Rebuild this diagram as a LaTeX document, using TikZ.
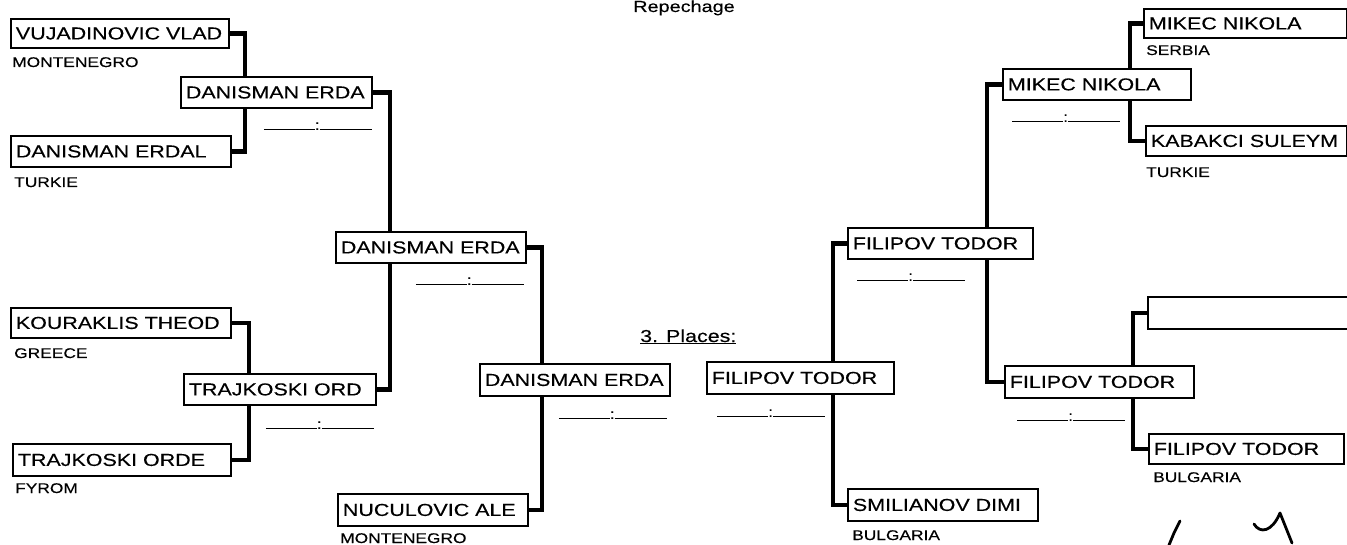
\documentclass[tikz,border=0pt]{standalone}
\usepackage{fontspec}
\setmainfont{Liberation Sans}[FakeStretch=1.24, FakeBold=0.3]
\usetikzlibrary{calc}
\pgfdeclarelayer{bg}
\pgfsetlayers{bg,main}
\newcommand\bigf{\fontsize{17.3}{20}\selectfont}
\newcommand\titlef{\fontsize{16}{19}\selectfont}
\newcommand\smallf{\fontsize{14}{16}\selectfont}
\newcommand\scoretext{\rule{51pt}{1.2pt}:\rule{52pt}{1.2pt}}
\tikzset{
  box/.style={draw, line width=1.8pt, fill=white, anchor=north west,
    inner xsep=5pt, inner ysep=0pt, text height=12pt, text depth=0pt, font=\bigf},
  conn/.style={line width=4.5pt, line join=miter},
  country/.style={anchor=base west, inner sep=0pt, font=\smallf},
  score/.style={inner sep=0pt, font=\smallf},
  sig/.style={line width=2.8pt, line cap=round, line join=round},
}
\newcommand\entry[6]{\node[box, minimum height=#5pt] (#1) at (#2,#3) {\makebox[\dimexpr #4pt-10pt\relax][l]{#6}};}
\begin{document}
\begin{tikzpicture}[x=1pt, y=-1pt]
\useasboundingbox (0,0) rectangle (1347,545);
\begin{pgfonlayer}{bg}
  \fill[white] (0,0) rectangle (1347,545);
\end{pgfonlayer}

% boxes
\entry{v1}{10}{18}{218}{29}{VUJADINOVIC VLAD}
\entry{d0}{10}{135}{220}{31}{DANISMAN ERDAL}
\entry{k1}{10}{307}{220}{30}{KOURAKLIS THEOD}
\entry{t0}{12}{443}{218}{32}{TRAJKOSKI ORDE}
\entry{d1}{180}{76}{191}{31}{DANISMAN ERDA}
\entry{t1}{183}{373}{192}{31}{TRAJKOSKI ORD}
\entry{d2}{335}{231}{190}{31}{DANISMAN ERDA}
\entry{n1}{337}{493}{190}{32}{NUCULOVIC ALE}
\entry{d3}{479}{363}{190}{32}{DANISMAN ERDA}
\entry{f3}{706}{361}{187}{32}{FILIPOV TODOR}
\entry{f2}{847}{227}{185}{31}{FILIPOV TODOR}
\entry{s1}{847}{488}{190}{32}{SMILIANOV DIMI}
\entry{m1}{1002}{68}{188}{31}{MIKEC NIKOLA}
\entry{f1}{1004}{365}{189}{32}{FILIPOV TODOR}
\entry{m0}{1143}{8}{203}{29}{MIKEC NIKOLA}
\entry{k0}{1145}{125}{201}{30}{KABAKCI SULEYM}
\entry{e0}{1147}{296}{230}{32}{}
\entry{f0}{1148}{433}{195}{30}{FILIPOV TODOR}

% connectors (behind the boxes)
\begin{pgfonlayer}{bg}
  \draw[conn] (v1.east) -- ++(15,0) |- (d0.east);
  \draw[conn] (k1.east) -- ++(17,0) |- (t0.east);
  \draw[conn] (d1.east) -- ++(17,0) |- (t1.east);
  \draw[conn] (d2.east) -- ++(15,0) |- (n1.east);
  \draw[conn] (f2.west) -- ++(-14,0) |- (s1.west);
  \draw[conn] (m1.west) -- ++(-15,0) |- (f1.west);
  \draw[conn] (m0.west) -- ++(-13,0) |- (k0.west);
  \draw[conn] (e0.west) -- ++(-14,0) |- (f0.west);
\end{pgfonlayer}

% score lines
\node[score, anchor=base east] (sd1) at ($(d1.south east)+(-1,21)$) {\scoretext};
\node[score, anchor=base east] (st1) at ($(t1.south east)+(-3,23)$) {\scoretext};
\node[score, anchor=base east] (sd2) at ($(d2.south east)+(-3,21)$) {\scoretext};
\node[score, anchor=base east] (sd3) at ($(d3.south east)+(-4,22)$) {\scoretext};
\node[score, anchor=base west] (sf3) at ($(f3.south west)+(11,22)$) {\scoretext};
\node[score, anchor=base west] (sf2) at ($(f2.south west)+(10,21)$) {\scoretext};
\node[score, anchor=base west] (sm1) at ($(m1.south west)+(10,21)$) {\scoretext};
\node[score, anchor=base west] (sf1) at ($(f1.south west)+(13,22)$) {\scoretext};

% countries
\node[country] (c1) at (12,67) {MONTENEGRO};
\node[country] (c2) at (14,187) {TURKIE};
\node[country] (c3) at (14,358) {GREECE};
\node[country] (c4) at (15,493) {FYROM};
\node[country] (c5) at (340,543) {MONTENEGRO};
\node[country] (c6) at (852,540) {BULGARIA};
\node[country] (c7) at (1146,55) {SERBIA};
\node[country] (c8) at (1146,177) {TURKIE};
\node[country] (c9) at (1153,482) {BULGARIA};

% titles
\node[anchor=base, inner sep=0pt, font=\titlef] (rep) at (684,12) {Repechage};
\node[anchor=base west, inner sep=0pt, font=\bigf] (pl) at (640,342) {\underline{3. Places:}};

% signature
\draw[sig] (1169,545) -- (1174,533) -- (1180,521);
\draw[sig] (1254,524) .. controls (1260,534) and (1272,532) .. (1280,513) -- (1292,543);
\end{tikzpicture}
\end{document}
